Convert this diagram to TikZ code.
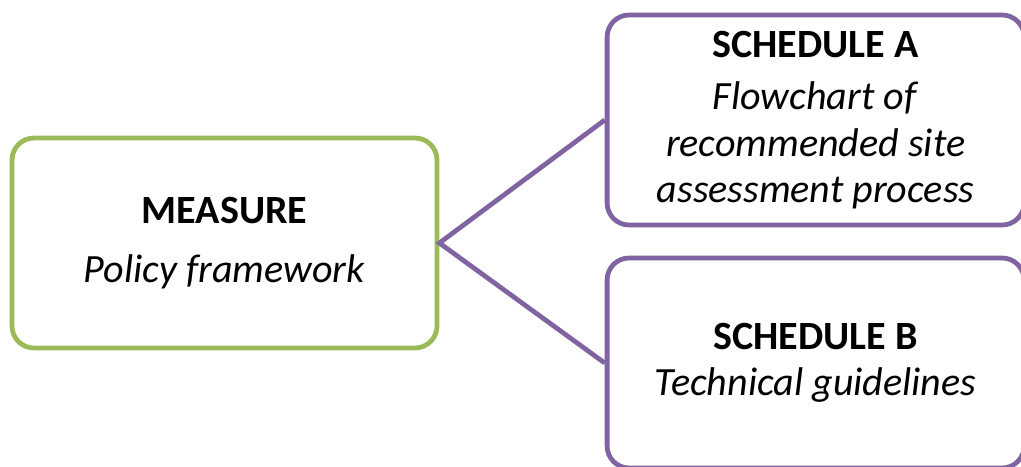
\documentclass[tikz,border=0pt]{standalone}
\usepackage{fontspec}
\setmainfont{Carlito}
\usetikzlibrary{positioning}
\definecolor{leafgreen}{HTML}{9BBB59}
\definecolor{plum}{HTML}{8064A2}
\tikzset{
  mainbox/.style ={draw=leafgreen,line width=3.4pt,rounded corners=0.55cm,align=center,
                   minimum width=10.625cm,minimum height=5.25cm},
  schedbox/.style={draw=plum,line width=3.4pt,rounded corners=0.55cm,align=center,
                   minimum width=10.425cm,minimum height=5.25cm},
  link/.style    ={draw=plum,line width=3.4pt},
  big/.style     ={font=\fontsize{28.5}{33}\selectfont},
}

\begin{document}
\begin{tikzpicture}[big]
  \clip (0,0) rectangle (25.525,11.65);
  \node[mainbox] (measure) at (5.6125,5.575)
    {\textbf{MEASURE}\\[0.3cm]\textit{Policy framework}};
  \node[schedbox] (schedA) at (20.39,8.65)
    {\textbf{SCHEDULE A}\\[0.15cm]\textit{Flowchart of}\\\textit{recommended site}\\\textit{assessment process}};
  \node[schedbox] (schedB) at (20.39,2.575)
    {\textbf{SCHEDULE B}\\\textit{Technical guidelines}};
  \draw[link] (schedA.west) -- (measure.east) -- (schedB.west);
\end{tikzpicture}
\end{document}
